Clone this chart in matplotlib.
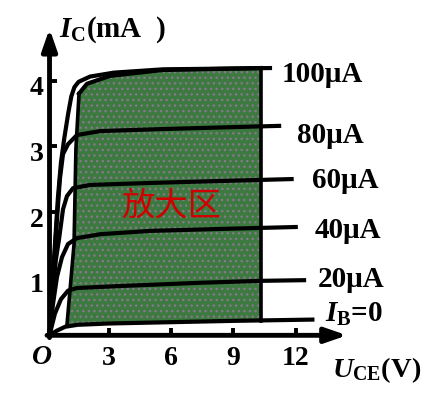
import matplotlib.pyplot as plt

plt.rcParams['font.family'] = ['Liberation Serif', 'DejaVu Serif']
plt.rcParams['font.weight'] = 'bold'
plt.rcParams['mathtext.fontset'] = 'custom'
plt.rcParams['mathtext.rm'] = 'Liberation Serif:bold'
plt.rcParams['mathtext.it'] = 'Liberation Serif:italic:bold'
plt.rcParams['mathtext.bf'] = 'Liberation Serif:bold'

# output characteristic curves, U_CE in V, I_C in mA
ib0_v = [0.15, 0.5, 0.9, 1.5, 3.0, 6.0, 9.0, 12.9]
ib0_i = [0.12, 0.19, 0.25, 0.28, 0.30, 0.32, 0.34, 0.36]
ib20_v = [0.15, 0.41, 0.70, 1.04, 1.47, 3.5, 7.4, 10.4, 12.5]
ib20_i = [0.12, 0.45, 0.67, 0.80, 0.84, 0.87, 0.92, 0.95, 0.96]
ib40_v = [0.15, 0.32, 0.51, 0.75, 1.04, 1.47, 2.6, 5.0, 8.4, 12.1]
ib40_i = [0.12, 0.60, 1.01, 1.31, 1.51, 1.60, 1.66, 1.71, 1.74, 1.77]
ib60_v = [0.15, 0.32, 0.46, 0.61, 0.80, 0.99, 1.28, 2.1, 5.0, 8.4, 11.9]
ib60_i = [0.12, 0.83, 1.28, 1.59, 2.04, 2.24, 2.36, 2.41, 2.44, 2.47, 2.50]
ib80_v = [0.15, 0.32, 0.51, 0.65, 0.80, 1.04, 1.47, 2.6, 5.5, 11.3]
ib80_i = [0.12, 0.98, 1.89, 2.50, 2.88, 3.03, 3.17, 3.23, 3.26, 3.31]
ib100_v = [0.15, 0.35, 0.55, 0.70, 0.85, 1.05, 1.20, 1.35, 1.55, 2.1, 3.25, 5.6, 10.86]
ib100_i = [0.12, 1.20, 2.20, 2.75, 3.10, 3.50, 3.76, 3.90, 3.98, 4.06, 4.12, 4.17, 4.19]

curve_labels = ['$I_\\mathrm{B}$=0', '20μA', '40μA', '60μA', '80μA', '100μA']
label_v = [13.41, 13.07, 12.93, 12.78, 12.06, 11.34]
label_i = [0.34, 0.87, 1.62, 2.38, 3.06, 3.99]

# amplification region boundary
top_v = [1.57, 1.95, 3.06, 5.61, 10.33]
top_i = [3.80, 3.95, 4.07, 4.16, 4.19]
left_v = [1.57, 1.42, 1.33, 0.99]
left_i = [3.80, 2.96, 1.51, 0.28]
right_v = 10.33
bottom_i = [0.28, 0.34]

xticks = [3, 6, 9, 12]
yticks = [1, 2, 3, 4]
v0, i0 = 0.15, 0.12

fig = plt.figure(figsize=(4.27, 4.06), dpi=100)
ax = fig.add_axes([0, 0, 1, 1])
ax.set_xlim(-2.233, 18.316)
ax.set_ylim(-0.941, 5.241)
ax.axis('off')

# green region
reg_v = top_v + [right_v] + left_v[::-1]
reg_i = top_i + [bottom_i[1]] + left_i[::-1]
ax.fill(reg_v, reg_i, facecolor='#3c7a40', edgecolor='#85788a',
        hatch='...', linewidth=0, zorder=1)

lw = 3.0
ax.plot(top_v, top_i, color='k', lw=lw, zorder=2, solid_joinstyle='round')
ax.plot(left_v, left_i, color='k', lw=2.6, zorder=2, solid_joinstyle='round')
ax.plot([right_v, right_v], [top_i[-1], bottom_i[1]], color='k', lw=2.6, zorder=2)

for vv, ii in [(ib0_v, ib0_i), (ib20_v, ib20_i), (ib40_v, ib40_i),
               (ib60_v, ib60_i), (ib80_v, ib80_i), (ib100_v, ib100_i)]:
    ax.plot(vv, ii, color='k', lw=lw, zorder=3, solid_joinstyle='round',
            solid_capstyle='butt')

# axes with arrows
arrow = dict(arrowstyle='-|>,head_length=1.3,head_width=0.45', lw=3.5,
             color='k', shrinkA=0, shrinkB=0, mutation_scale=10)
ax.annotate('', xy=(v0, 4.79), xytext=(v0, i0 - 0.035), arrowprops=arrow)
ax.annotate('', xy=(14.47, i0), xytext=(v0 - 0.12, i0), arrowprops=arrow)

for t in yticks:
    ax.plot([v0, v0 + 0.36], [t, t], color='k', lw=2.8, solid_capstyle='butt')
    ax.text(-0.15, t - 0.21, str(t), fontsize=20, ha='right', va='baseline')
for t in xticks:
    ax.plot([t, t], [i0, i0 + 0.11], color='k', lw=2.8, solid_capstyle='butt')
    ax.text(t, -0.32, str(t), fontsize=20, ha='center', va='baseline')

ax.text(-0.21, -0.30, 'O', fontsize=20, style='italic', ha='center', va='baseline')
ax.text(0.61, 4.69, '$I_\\mathrm{C}$(mA  )', fontsize=21, ha='left', va='baseline')
ax.text(13.75, -0.50, '$U_\\mathrm{CE}$(V)', fontsize=20.5, ha='left', va='baseline')

for s, x, y in zip(curve_labels, label_v, label_i):
    ax.text(x, y, s, fontsize=21, ha='left', va='baseline')

ax.text(5.99, 2.10, '放大区', fontsize=24, color='#d00000', ha='center', va='center',
        family=['Noto Sans CJK SC', 'DejaVu Sans'], weight='normal')

fig.savefig('out.png', dpi=100)
